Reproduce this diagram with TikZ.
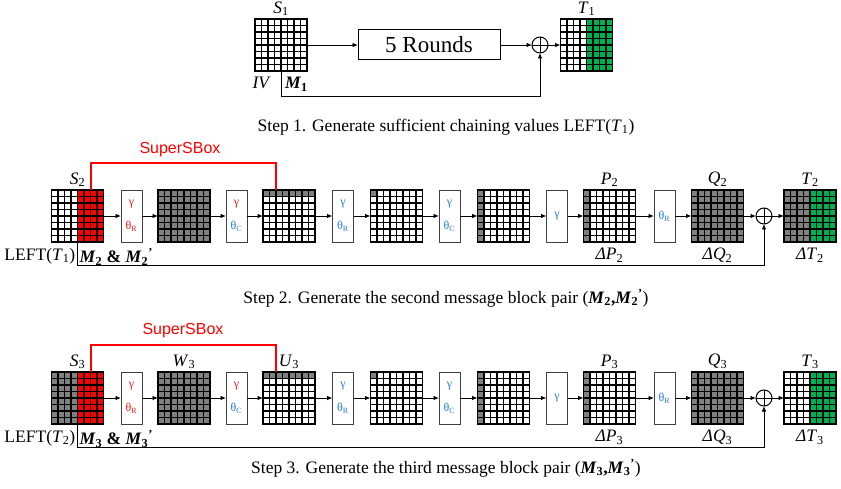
\documentclass[tikz,border=0pt]{standalone}
\usepackage{fontspec}
\setmainfont{Liberation Serif}
\newfontfamily\labelsans{Liberation Sans}
\usetikzlibrary{arrows.meta,calc,positioning}

\definecolor{cellgrey}{RGB}{128,128,128}
\definecolor{cellred}{RGB}{255,0,0}
\definecolor{cellgreen}{RGB}{0,176,80}
\definecolor{opblue}{RGB}{40,125,205}
\definecolor{opred}{RGB}{240,30,30}

% fills inside a state grid (local coordinates: column/row index, 8x8 cells of 6.5pt)
\newcommand\statecols[3]{\fill[#3] ({#1*6.5},0) rectangle ({(#2+1)*6.5},52);}
\newcommand\staterows[3]{\fill[#3] (0,{#1*6.5}) rectangle (52,{(#2+1)*6.5});}
\newcommand\statecell[3]{\fill[#3] ({#1*6.5},{#2*6.5}) rectangle ({(#1+1)*6.5},{(#2+1)*6.5});}

% an 8x8 state: name, centre x, centre y, fill commands
\newcommand\statenode[4]{%
  \node[stategrid] (#1) at (#2,#3) {};
  \begin{scope}[shift={(#1.north west)}]
    #4
    \foreach \k in {0,...,8}{
      \draw[gridline] ({\k*6.5},0) -- ({\k*6.5},52);
      \draw[gridline] (0,{\k*6.5}) -- (52,{\k*6.5});
    }
    \draw[gridline] (0,0) rectangle (52,52);
  \end{scope}}

\newcommand\sub[1]{\textsubscript{#1}}
\newcommand\rd[1]{\textcolor{opred}{#1}}
\newcommand\bl[1]{\textcolor{opblue}{#1}}

\tikzset{
  stategrid/.style={minimum width=52pt, minimum height=52pt, inner sep=0pt, outer sep=0pt},
  gridline/.style={draw=black, line width=1.05pt},
  opbox/.style={draw=black!75, line width=0.9pt, fill=white, minimum width=21pt,
    minimum height=52pt, inner sep=0pt, outer sep=0pt, align=center,
    font=\fontsize{12}{12}\selectfont},
  roundbox/.style={draw=black, line width=1pt, minimum width=142pt, minimum height=30pt,
    inner sep=0pt, outer sep=0pt, font=\fontsize{23}{25}\selectfont},
  xorop/.style={circle, draw=black, line width=1pt, minimum size=16pt, inner sep=0pt,
    outer sep=0pt,
    path picture={\draw[line width=0.9pt]
      (path picture bounding box.north) -- (path picture bounding box.south)
      (path picture bounding box.west) -- (path picture bounding box.east);}},
  arr/.style={draw=black, line width=0.9pt, -{Latex[length=5.5pt,width=4.5pt]}},
  lbl/.style={inner sep=0pt, font=\fontsize{17.5}{20}\selectfont},
  caption/.style={inner sep=0pt, font=\fontsize{17.5}{20}\selectfont},
  superline/.style={draw=cellred, line width=2pt},
  supertext/.style={inner sep=0pt, text=cellred, font=\labelsans\fontsize{16}{18}\selectfont}
}

\begin{document}
\begin{tikzpicture}[x=1pt, y=-1pt]
\useasboundingbox (0,0) rectangle (841,489);

% ---------------- Step 1 ----------------
\statenode{S1}{281}{45}{}
\node[roundbox] (rounds) at (429,45) {5 Rounds};
\node[xorop] (x1) at (540,45) {};
\statenode{T1}{586.5}{45}{\statecols{4}{7}{cellgreen}}

\draw[arr] (S1) -- (rounds);
\draw[arr] (rounds) -- (x1);
\draw[arr] (x1) -- (T1);
\draw[arr] (S1.south) -- ++(0,25) -| (x1.south);

\node[lbl, above=3pt of S1] (S1lab) {\textit{S}\sub{1}};
\node[lbl, above=3pt of T1] (T1lab) {\textit{T}\sub{1}};
\node[lbl, anchor=north east] (IVlab) at ($(S1.south)+(-10,6)$) {\textit{IV}};
\node[lbl, anchor=north west] (M1lab) at ($(S1.south)+(4,6)$) {\textbf{\textit{M}\sub{1}}};

\node[caption] (cap1) at (446,127) {Step 1. Generate sufficient chaining values LEFT(\textit{T}\sub{1})};

% ---------------- Step 2 ----------------
\statenode{S2}{77.5}{216}{\statecols{4}{7}{cellred}}
\node[opbox] (b21) at (131.5,216) {\rd{γ}\\[12pt]\rd{θ\sub{R}}};
\statenode{G21}{184}{216}{\statecols{0}{7}{cellgrey}}
\node[opbox] (b22) at (236.5,216) {\rd{γ}\\[12pt]\bl{θ\sub{C}}};
\statenode{G22}{289}{216}{\staterows{0}{0}{cellgrey}}
\node[opbox] (b23) at (343,216) {\bl{γ}\\[12pt]\bl{θ\sub{R}}};
\statenode{G23}{396.5}{216}{\statecell{0}{0}{cellgrey}}
\node[opbox] (b24) at (449.5,216) {\bl{γ}\\[12pt]\bl{θ\sub{C}}};
\statenode{G24}{503.5}{216}{\statecols{0}{0}{cellgrey}}
\node[opbox] (b25) at (557,216) {\bl{γ}};
\statenode{P2}{609.5}{216}{\statecols{0}{0}{cellgrey}}
\node[opbox] (b26) at (664.5,216) {\bl{θ\sub{R}}};
\statenode{Q2}{717.5}{216}{\statecols{0}{7}{cellgrey}}
\node[xorop] (x2) at (764,216) {};
\statenode{T2}{810}{216}{\statecols{0}{3}{cellgrey}\statecols{4}{7}{cellgreen}}

\draw[arr] (S2) -- (b21);
\draw[arr] (b21) -- (G21);
\draw[arr] (G21) -- (b22);
\draw[arr] (b22) -- (G22);
\draw[arr] (G22) -- (b23);
\draw[arr] (b23) -- (G23);
\draw[arr] (G23) -- (b24);
\draw[arr] (b24) -- (G24);
\draw[arr] (G24) -- (b25);
\draw[arr] (b25) -- (P2);
\draw[arr] (P2) -- (b26);
\draw[arr] (b26) -- (Q2);
\draw[arr] (Q2) -- (x2);
\draw[arr] (x2) -- (T2);
\draw[arr] (S2.south) -- ++(0,23) -| (x2.south);

\coordinate (ss2a) at (90.5,190);
\coordinate (ss2b) at (276,190);
\draw[superline] (ss2a) -- ++(0,-27) -| (ss2b);
\node[supertext] (ss2lab) at (180,150) {SuperSBox};

\node[lbl, above=3pt of S2] (S2lab) {\textit{S}\sub{2}};
\node[lbl, above=3pt of P2] (P2lab) {\textit{P}\sub{2}};
\node[lbl, above=3pt of Q2] (Q2lab) {\textit{Q}\sub{2}};
\node[lbl, above=3pt of T2] (T2lab) {\textit{T}\sub{2}};
\node[lbl, below=6pt of P2] (dP2lab) {\textit{ΔP}\sub{2}};
\node[lbl, below=6pt of Q2] (dQ2lab) {\textit{ΔQ}\sub{2}};
\node[lbl, below=6pt of T2] (dT2lab) {\textit{ΔT}\sub{2}};
\node[lbl, anchor=north east] (L2lab) at ($(S2.south)+(-2,6)$) {LEFT(\textit{T}\sub{1})};
\node[lbl, anchor=north west] (M2lab) at ($(S2.south)+(2,6)$)
  {\textbf{\textit{M}\sub{2} \& \textit{M}\sub{2}\textsuperscript{'}}};

\node[caption] (cap2) at (446,298) {Step 2. Generate the second message block pair (\textbf{\textit{M}\sub{2},\textit{M}\sub{2}\textsuperscript{'}})};

% ---------------- Step 3 ----------------
\statenode{S3}{77.5}{398}{\statecols{0}{3}{cellgrey}\statecols{4}{7}{cellred}}
\node[opbox] (b31) at (131.5,398) {\rd{γ}\\[12pt]\rd{θ\sub{R}}};
\statenode{W3}{184}{398}{\statecols{0}{7}{cellgrey}}
\node[opbox] (b32) at (236.5,398) {\rd{γ}\\[12pt]\bl{θ\sub{C}}};
\statenode{U3}{289}{398}{\staterows{0}{0}{cellgrey}}
\node[opbox] (b33) at (343,398) {\bl{γ}\\[12pt]\bl{θ\sub{R}}};
\statenode{G33}{396.5}{398}{\statecell{0}{0}{cellgrey}}
\node[opbox] (b34) at (449.5,398) {\bl{γ}\\[12pt]\bl{θ\sub{C}}};
\statenode{G34}{503.5}{398}{\statecols{0}{0}{cellgrey}}
\node[opbox] (b35) at (557,398) {\bl{γ}};
\statenode{P3}{609.5}{398}{\statecols{0}{0}{cellgrey}}
\node[opbox] (b36) at (664.5,398) {\bl{θ\sub{R}}};
\statenode{Q3}{717.5}{398}{\statecols{0}{7}{cellgrey}}
\node[xorop] (x3) at (764,398) {};
\statenode{T3}{810}{398}{\statecols{4}{7}{cellgreen}}

\draw[arr] (S3) -- (b31);
\draw[arr] (b31) -- (W3);
\draw[arr] (W3) -- (b32);
\draw[arr] (b32) -- (U3);
\draw[arr] (U3) -- (b33);
\draw[arr] (b33) -- (G33);
\draw[arr] (G33) -- (b34);
\draw[arr] (b34) -- (G34);
\draw[arr] (G34) -- (b35);
\draw[arr] (b35) -- (P3);
\draw[arr] (P3) -- (b36);
\draw[arr] (b36) -- (Q3);
\draw[arr] (Q3) -- (x3);
\draw[arr] (x3) -- (T3);
\draw[arr] (S3.south) -- ++(0,23) -| (x3.south);

\coordinate (ss3a) at (90.5,372);
\coordinate (ss3b) at (276,372);
\draw[superline] (ss3a) -- ++(0,-27) -| (ss3b);
\node[supertext] (ss3lab) at (183,331) {SuperSBox};

\node[lbl, above=3pt of S3] (S3lab) {\textit{S}\sub{3}};
\node[lbl, above=3pt of W3] (W3lab) {\textit{W}\sub{3}};
\node[lbl, above=3pt of U3] (U3lab) {\textit{U}\sub{3}};
\node[lbl, above=3pt of P3] (P3lab) {\textit{P}\sub{3}};
\node[lbl, above=3pt of Q3] (Q3lab) {\textit{Q}\sub{3}};
\node[lbl, above=3pt of T3] (T3lab) {\textit{T}\sub{3}};
\node[lbl, below=6pt of P3] (dP3lab) {\textit{ΔP}\sub{3}};
\node[lbl, below=6pt of Q3] (dQ3lab) {\textit{ΔQ}\sub{3}};
\node[lbl, below=6pt of T3] (dT3lab) {\textit{ΔT}\sub{3}};
\node[lbl, anchor=north east] (L3lab) at ($(S3.south)+(-2,6)$) {LEFT(\textit{T}\sub{2})};
\node[lbl, anchor=north west] (M3lab) at ($(S3.south)+(2,6)$)
  {\textbf{\textit{M}\sub{3} \& \textit{M}\sub{3}\textsuperscript{'}}};

\node[caption] (cap3) at (446,468) {Step 3. Generate the third message block pair (\textbf{\textit{M}\sub{3},\textit{M}\sub{3}\textsuperscript{'}})};
\end{tikzpicture}
\end{document}
